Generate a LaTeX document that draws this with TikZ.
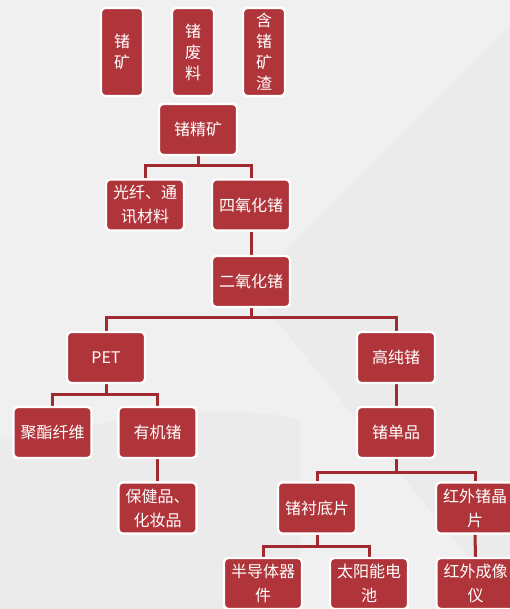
\documentclass[tikz,border=0pt]{standalone}
\usepackage{fontspec}
\newfontfamily\cjk{Noto Sans CJK SC}
\usetikzlibrary{positioning}
\definecolor{boxred}{HTML}{B0353A}
\definecolor{linered}{HTML}{A02A2F}
\definecolor{bgbase}{HTML}{F0F0F0}
\definecolor{bgdark}{HTML}{EBEBEC}
\pgfdeclarelayer{bg}
\pgfdeclarelayer{edges}
\pgfsetlayers{bg,edges,main}
\tikzset{
  box/.style={rectangle, rounded corners=4pt, fill=boxred, draw=white, line width=2.4pt,
    text=white, font=\cjk\fontsize{16}{24}\selectfont, align=center, inner sep=0pt,
    minimum width=78pt, minimum height=51pt},
  tall/.style={box, font=\cjk\fontsize{16}{21}\selectfont, minimum width=42pt, minimum height=88pt},
  conn/.style={draw=linered, line width=3pt}
}
\begin{document}
\begin{tikzpicture}[x=1pt,y=-1pt]
\begin{pgfonlayer}{bg}
  \fill[bgbase] (0,0) rectangle (510,609);
  \fill[bgdark] (510,25) -- (285,250) -- (260,300) -- (510,609) -- cycle;
  \fill[bgdark] (0,440) .. controls (120,420) and (220,400) .. (300,420) -- (300,609) -- (0,609) -- cycle;
\end{pgfonlayer}
\useasboundingbox (0,0) rectangle (510,609);

% nodes
\node[tall] (kuang) at (122,52) {锗\\矿};
\node[tall] (feiliao) at (193,52) {锗\\废\\料};
\node[tall] (zha) at (264,52) {含\\锗\\矿\\渣};
\node[box] (jingkuang) at (198,129.5) {锗精矿};
\node[box] (guangxian) at (145,205) {光纤、通\\讯材料};
\node[box] (siyang) at (251,205) {四氧化锗};
\node[box] (eryang) at (251,281.5) {二氧化锗};
\node[box] (pet) at (106,357.5) {PET};
\node[box] (gaochun) at (396,357.5) {高纯锗};
\node[box] (juzhi) at (52.5,432.5) {聚酯纤维};
\node[box] (youji) at (157.5,432.5) {有机锗};
\node[box] (danpin) at (396,432.5) {锗单品};
\node[box] (baojian) at (157.5,508) {保健品、\\化妆品};
\node[box] (chendi) at (317,508) {锗衬底片};
\node[box] (hongwai) at (475,508) {红外锗晶\\片};
\node[box] (bandaoti) at (263,583.5) {半导体器\\件};
\node[box] (taiyang) at (369,583.5) {太阳能电\\池};
\node[box] (chengxiang) at (475.5,583.5) {红外成像\\仪};

% junctions
\coordinate (j1) at (198,166);
\coordinate (j2) at (251,317);
\coordinate (j3) at (106,394);
\coordinate (j4) at (396,472);
\coordinate (j5) at (317,546);

\begin{pgfonlayer}{edges}
  \draw[conn] (jingkuang.south) -- (j1) -| (guangxian.north);
  \draw[conn] (j1) -| (siyang.north);
  \draw[conn] (siyang.south) -- (eryang.north);
  \draw[conn] (eryang.south) -- (j2) -| (pet.north);
  \draw[conn] (j2) -| (gaochun.north);
  \draw[conn] (pet.south) -- (j3) -| (juzhi.north);
  \draw[conn] (j3) -| (youji.north);
  \draw[conn] (youji.south) -- (baojian.north);
  \draw[conn] (gaochun.south) -- (danpin.north);
  \draw[conn] (danpin.south) -- (j4) -| (chendi.north);
  \draw[conn] (j4) -| (hongwai.north);
  \draw[conn] (chendi.south) -- (j5) -| (bandaoti.north);
  \draw[conn] (j5) -| (taiyang.north);
  \draw[conn] (hongwai.south) -- (chengxiang.north);
\end{pgfonlayer}
\end{tikzpicture}
\end{document}
